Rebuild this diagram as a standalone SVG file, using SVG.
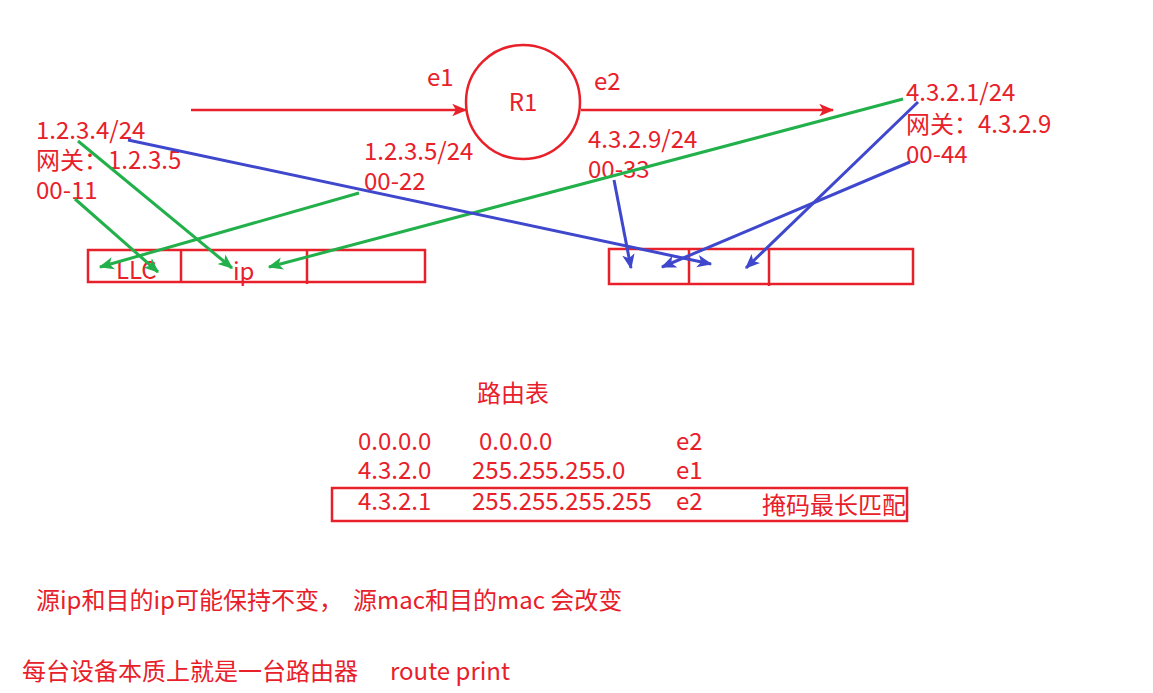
<svg xmlns="http://www.w3.org/2000/svg" width="1153" height="693" viewBox="0 0 1153 693">
<style>
text{font-family:"Noto Sans CJK SC","Noto Sans",sans-serif;font-size:24px;fill:#e8202a}
.r{stroke:#e8202a;stroke-width:2.5;fill:none}
.g{stroke:#22b04a;stroke-width:3;fill:none}
.b{stroke:#3f48cc;stroke-width:3;fill:none}
</style>
<defs>
<marker id="ar" viewBox="0 0 12 10" refX="11" refY="5" markerWidth="6" markerHeight="5" orient="auto" markerUnits="strokeWidth"><path d="M0,0 L12,5 L0,10 L3,5 z" fill="#e8202a"/></marker>
<marker id="ag" viewBox="0 0 12 10" refX="11" refY="5" markerWidth="5" markerHeight="4.5" orient="auto" markerUnits="strokeWidth"><path d="M0,0 L12,5 L0,10 L3,5 z" fill="#22b04a"/></marker>
<marker id="ab" viewBox="0 0 12 10" refX="11" refY="5" markerWidth="5" markerHeight="4.5" orient="auto" markerUnits="strokeWidth"><path d="M0,0 L12,5 L0,10 L3,5 z" fill="#3f48cc"/></marker>
</defs>
<rect width="1153" height="693" fill="#fff"/>
<g id="R1">
<circle cx="523" cy="102" r="57" class="r" stroke-width="2"/>
<text x="523" y="111" text-anchor="middle">R1</text>
</g>
<g id="e1"><text x="427" y="86">e1</text></g>
<g id="e2"><text x="594" y="90">e2</text></g>
<g id="hostA">
<text x="36" y="139">1.2.3.4/24</text>
<text x="36" y="169">网关：1.2.3.5</text>
<text x="36" y="199">00-11</text>
</g>
<g id="portE1">
<text x="364" y="160">1.2.3.5/24</text>
<text x="364" y="190">00-22</text>
</g>
<g id="portE2">
<text x="588" y="148">4.3.2.9/24</text>
<text x="588" y="178">00-33</text>
</g>
<g id="hostB">
<text x="906" y="101">4.3.2.1/24</text>
<text x="906" y="133">网关：4.3.2.9</text>
<text x="906" y="163">00-44</text>
</g>
<g id="frameLeft">
<rect x="88" y="250" width="337" height="32" class="r" stroke-width="2"/>
<line x1="181" y1="250" x2="181" y2="283" class="r"/>
<line x1="307" y1="250" x2="307" y2="284" class="r"/>
<text x="116" y="279">LLC</text>
<text x="233" y="280">ip</text>
</g>
<g id="frameRight">
<rect x="609" y="249" width="304" height="35" class="r" stroke-width="2"/>
<line x1="689" y1="249" x2="689" y2="285" class="r"/>
<line x1="769" y1="249" x2="769" y2="286" class="r"/>
</g>
<g id="connectors">
<line x1="191" y1="110" x2="466" y2="110" class="r" marker-end="url(#ar)"/>
<line x1="581" y1="110" x2="833" y2="110" class="r" marker-end="url(#ar)"/>
<line x1="78" y1="141" x2="232" y2="268" class="g" marker-end="url(#ag)"/>
<line x1="75" y1="199" x2="158" y2="272" class="g" marker-end="url(#ag)"/>
<line x1="359" y1="193" x2="100" y2="267" class="g" marker-end="url(#ag)"/>
<line x1="903" y1="99" x2="269" y2="267" class="g" marker-end="url(#ag)"/>
<line x1="128" y1="140" x2="711" y2="264" class="b" marker-end="url(#ab)"/>
<line x1="614" y1="180" x2="631" y2="268" class="b" marker-end="url(#ab)"/>
<line x1="910" y1="162" x2="662" y2="267" class="b" marker-end="url(#ab)"/>
<line x1="918" y1="102" x2="746" y2="268" class="b" marker-end="url(#ab)"/>
</g>
<g id="routeTable">
<text x="477" y="402">路由表</text>
<text x="358" y="450">0.0.0.0</text>
<text x="479" y="450">0.0.0.0</text>
<text x="676" y="450">e2</text>
<text x="358" y="479">4.3.2.0</text>
<text x="472" y="479">255.255.255.0</text>
<text x="676" y="479">e1</text>
<rect x="332" y="488" width="575" height="33" class="r" stroke-width="2"/>
<text x="358" y="510">4.3.2.1</text>
<text x="472" y="510">255.255.255.255</text>
<text x="676" y="510">e2</text>
<text x="762" y="514" font-size="23.5">掩码最长匹配</text>
</g>
<g id="notes">
<text x="36" y="609">源ip和目的ip可能保持不变，<tspan x="353">源mac和目的mac 会改变</tspan></text>
<text x="22" y="680">每台设备本质上就是一台路由器<tspan x="390">route print</tspan></text>
</g>
</svg>
